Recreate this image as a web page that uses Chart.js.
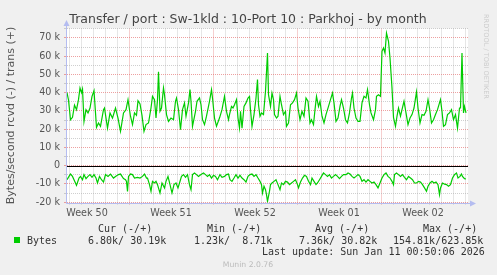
<!DOCTYPE html>
<html>
<head>
<meta charset="utf-8">
<script src="https://cdn.jsdelivr.net/npm/chart.js@4/dist/chart.umd.min.js"></script>
<style>
    html, body { margin: 0; padding: 0; background: #f0f0f0; }
</style>
</head>
<body>
<canvas id="munin" width="497" height="275"></canvas>
<script>
// time axis in hours since the left edge of the graph (1 px = 2 h)
const weekLabels = ['Week 50', 'Week 51', 'Week 52', 'Week 01', 'Week 02'];
const weekCenters = [40, 208, 376, 544, 712];
const weekStarts = [124, 292, 460, 628];

// trans (+), kB/s
const transHours = [0, 3, 7, 11, 15, 19, 23, 26, 29, 31, 34, 38, 42, 46, 50, 54, 59, 63, 67, 73, 75, 81, 86, 91, 97, 102, 107, 113, 118, 122, 127, 131, 135, 139, 142, 146, 150, 154, 158, 163, 168, 171, 175, 178, 181, 183, 186, 189, 193, 195, 199, 203, 208, 213, 217, 219, 223, 227, 231, 235, 238, 243, 246, 248, 251, 257, 260, 265, 268, 271, 275, 279, 285, 289, 291, 295, 299, 305, 310, 315, 319, 323, 325, 329, 332, 335, 339, 342, 345, 347, 350, 354, 358, 362, 365, 367, 370, 374, 378, 381, 383, 386, 389, 393, 397, 401, 403, 407, 410, 413, 415, 419, 422, 426, 429, 433, 437, 439, 443, 447, 451, 455, 459, 462, 466, 470, 474, 478, 482, 486, 489, 493, 496, 499, 503, 506, 510, 514, 518, 523, 527, 531, 534, 538, 542, 546, 549, 553, 557, 561, 565, 569, 571, 574, 578, 582, 586, 590, 594, 598, 601, 605, 608, 613, 617, 619, 623, 627, 630, 633, 636, 639, 643, 646, 650, 653, 657, 660, 663, 667, 670, 674, 678, 682, 686, 690, 694, 699, 702, 706, 710, 714, 718, 722, 725, 729, 733, 737, 741, 745, 747, 750, 753, 757, 761, 765, 769, 773, 777, 781, 785, 787, 790, 793, 795, 798];
const transK = [40, 36, 25.2, 26.5, 33.2, 30.7, 36.2, 42.6, 40, 42, 24.3, 30.7, 28.9, 31.6, 38, 41.1, 21, 23.4, 21.6, 30.7, 31.6, 20.6, 28.9, 26.1, 31.6, 26.1, 18.8, 28.9, 30.7, 36.2, 27.1, 22.5, 28.9, 27.6, 35.6, 33.8, 27.6, 18.8, 22.5, 23.4, 31.6, 38, 36.2, 26.1, 36.2, 51.5, 29.8, 31.6, 42.6, 38.9, 28, 24.3, 26.1, 25.2, 35.3, 37.1, 30.7, 19.7, 30.7, 34.4, 27.1, 34.4, 41.7, 35.3, 21.6, 29.8, 35.3, 37.1, 33.4, 25.2, 22.5, 27.1, 35.3, 41.7, 37.1, 26.1, 21.6, 26.1, 30.7, 38, 29.8, 25.2, 28, 32.5, 31.6, 33.4, 36.2, 26.1, 20.6, 29.8, 20.6, 32.5, 34.4, 37.1, 38, 30.7, 21.6, 28, 37.1, 47.2, 33.4, 27.1, 28.9, 28, 40.8, 61.8, 38.9, 32.5, 39.8, 36.2, 28, 26.1, 27.1, 38, 33.4, 28, 29.8, 21.6, 23.4, 33.4, 34.4, 36.2, 39.8, 31.6, 25.2, 29.8, 27.1, 37.1, 35.3, 23.4, 25.2, 22.5, 30.7, 38, 32.5, 35.3, 27.1, 23.4, 28, 32.5, 36.2, 39.8, 34.4, 24.3, 26.1, 32.5, 36.2, 31.6, 25.2, 23.4, 28.9, 37.1, 39.8, 31.6, 26.1, 24.3, 24.3, 34.4, 38, 37.1, 41.7, 33.4, 28.9, 25.2, 30.7, 38, 38.9, 38, 62.7, 64.5, 61.8, 72.7, 68.2, 59, 42.6, 26.5, 21.6, 27.1, 31.6, 27.1, 30.7, 35.3, 28.9, 22.5, 26.1, 28, 31.6, 40.4, 31.6, 23.4, 28, 27.6, 29.8, 36.2, 31.6, 23.4, 25.2, 28, 30.7, 34.4, 36.2, 29.8, 21.6, 22.5, 28, 28.9, 30.7, 25.2, 28, 20.6, 31.6, 31.6, 61.8, 28.9, 32.5, 28.9];

// rcvd (-), kB/s, drawn below zero
const rcvdHours = [0, 4, 7, 11, 14, 19, 24, 27, 31, 34, 38, 42, 46, 50, 54, 58, 61, 65, 69, 73, 77, 82, 87, 93, 97, 103, 107, 113, 117, 119, 121, 123, 127, 131, 135, 141, 146, 151, 155, 159, 161, 165, 168, 171, 175, 178, 181, 186, 190, 195, 198, 202, 206, 210, 214, 218, 222, 225, 229, 233, 237, 241, 245, 248, 251, 255, 259, 263, 268, 273, 277, 281, 285, 289, 293, 297, 301, 306, 310, 315, 319, 323, 326, 330, 334, 338, 342, 346, 350, 354, 358, 362, 366, 370, 374, 378, 382, 386, 389, 391, 394, 397, 399, 401, 405, 407, 410, 414, 418, 422, 426, 429, 433, 437, 441, 445, 449, 453, 457, 461, 463, 467, 471, 475, 479, 483, 487, 490, 494, 498, 501, 505, 509, 513, 517, 521, 525, 529, 533, 537, 541, 545, 549, 553, 558, 562, 566, 570, 574, 578, 582, 586, 590, 594, 598, 602, 606, 610, 614, 618, 622, 626, 630, 634, 638, 642, 646, 650, 653, 655, 659, 663, 667, 671, 675, 679, 683, 687, 691, 695, 699, 703, 707, 711, 715, 719, 722, 726, 730, 734, 738, 742, 745, 747, 751, 755, 759, 763, 767, 771, 775, 779, 782, 786, 789, 791, 795, 798];
const rcvdK = [7.7, 5.9, 4.6, 5.9, 7.7, 10.8, 6.8, 5.9, 7.7, 4.9, 7.1, 5.9, 4.9, 6.4, 4.9, 6.8, 9.5, 5.9, 7.7, 9, 4.9, 5.9, 4.6, 6.8, 5.9, 4.9, 4.6, 7.1, 7.7, 8.6, 14.1, 5.9, 4.6, 4.9, 6.8, 6.4, 6.8, 5.9, 4.6, 6.8, 6.8, 10.4, 14, 8.6, 9.5, 8.6, 10.4, 15, 9.5, 12.2, 8.6, 5.9, 10.4, 15, 10.4, 9.5, 12.2, 9.5, 5.9, 4.9, 6.4, 4.9, 10.4, 13.2, 4.9, 4, 4.9, 5.9, 4.9, 4, 4.9, 5.9, 4.9, 6.8, 5.3, 5.9, 7.7, 4.9, 6.4, 5.9, 4.9, 4.6, 7.7, 8.6, 6.8, 4.9, 6.8, 5.3, 6.8, 7.7, 9, 5.9, 4.9, 4.6, 5.9, 4.9, 6.8, 8.6, 10.4, 15, 11.3, 13.2, 15.9, 19.6, 14, 10.4, 9.5, 8.6, 7.7, 10.4, 13.2, 9.5, 10.4, 8.6, 9, 10.4, 9.5, 8.6, 7.7, 10.4, 12.2, 9, 6.8, 5.3, 5.9, 8.6, 10.4, 6.8, 8.6, 10.4, 9.5, 7.7, 5.9, 4, 4.9, 5.9, 4.9, 6.8, 5.9, 4.9, 5.9, 7.1, 5.9, 4.9, 4.9, 4, 4.6, 5.9, 6.8, 5.9, 4.9, 5.9, 8.6, 7.7, 9, 7.7, 8.6, 9.5, 9, 10.4, 12.2, 9.5, 6.8, 4.9, 4, 5.9, 6.8, 8.6, 10.4, 4.9, 4, 4.9, 5.9, 4.9, 6.4, 7.7, 5.9, 6.8, 7.7, 9.5, 9.5, 8.6, 9, 10.4, 12.2, 14, 11.3, 9.5, 8.6, 9.5, 9, 10.4, 15.9, 12.2, 9.5, 10.1, 10.4, 11.3, 10.4, 6.8, 4.9, 4, 6.8, 5.9, 4.6, 5.9, 7.1, 7.3];

const legendHeads = ['Cur (-/+)', 'Min (-/+)', 'Avg (-/+)', 'Max (-/+)'];
const legendValues = ['6.80k/ 30.19k', '1.23k/  8.71k', '7.36k/ 30.82k', '154.81k/623.85k'];

const GREEN = '#00cc00';
const MAJOR = 'rgba(230, 120, 120, 0.7)';
const MINOR = 'rgba(175, 175, 175, 0.6)';
const AXIS = '#b4bcf0';
const TXT = '#555';

const bgPlugin = {
    id: 'bg',
    beforeDraw(chart) {
        const {ctx, chartArea: a} = chart;
        ctx.save();
        ctx.fillStyle = '#f0f0f0';
        ctx.fillRect(0, 0, chart.width, chart.height);
        ctx.fillStyle = '#ffffff';
        ctx.fillRect(a.left, a.top, a.right - a.left, a.bottom - a.top);
        ctx.restore();
    },
    beforeDatasetsDraw(chart) {
        // black zero line
        const {ctx, chartArea: a} = chart;
        const y0 = Math.round(chart.scales.y.getPixelForValue(0)) + 0.5;
        ctx.save();
        ctx.strokeStyle = '#000';
        ctx.lineWidth = 1;
        ctx.beginPath();
        ctx.moveTo(a.left, y0);
        ctx.lineTo(a.right, y0);
        ctx.stroke();
        ctx.restore();
    },
    afterDraw(chart) {
        const {ctx, chartArea: a} = chart;
        ctx.save();
        // axes with arrows
        ctx.strokeStyle = AXIS;
        ctx.fillStyle = AXIS;
        ctx.lineWidth = 1;
        const xl = Math.round(a.left) - 0.5;
        const yb = Math.round(a.bottom) + 0.5;
        ctx.beginPath();
        ctx.moveTo(xl, yb);
        ctx.lineTo(xl, 24);
        ctx.moveTo(xl, yb);
        ctx.lineTo(472, yb);
        ctx.stroke();
        ctx.beginPath();
        ctx.moveTo(xl - 3, 26);
        ctx.lineTo(xl, 20);
        ctx.lineTo(xl + 3, 26);
        ctx.closePath();
        ctx.fill();
        ctx.beginPath();
        ctx.moveTo(470, yb - 3);
        ctx.lineTo(476, yb);
        ctx.lineTo(470, yb + 3);
        ctx.closePath();
        ctx.fill();

        // title
        ctx.fillStyle = '#444';
        ctx.textAlign = 'center';
        ctx.textBaseline = 'alphabetic';
        ctx.font = '12.5px "DejaVu Sans"';
        ctx.fillText('Transfer / port : Sw-1kld : 10-Port 10 : Parkhoj - by month', 248, 22.5);

        // legend
        ctx.fillStyle = '#333';
        ctx.textAlign = 'left';
        ctx.font = '10px "DejaVu Sans Mono"';
        const headX = [98, 207, 315, 423];
        const valX = [88, 194, 299, 393];
        legendHeads.forEach((t, i) => ctx.fillText(t, headX[i], 231.5));
        ctx.fillText('Bytes', 27, 243.5);
        legendValues.forEach((t, i) => ctx.fillText(t, valX[i], 243.5));
        ctx.fillText('Last update: Sun Jan 11 00:50:06 2026', 262, 255);
        ctx.fillStyle = GREEN;
        ctx.fillRect(14, 237, 6, 6);

        ctx.fillStyle = '#bbb';
        ctx.textAlign = 'center';
        ctx.font = '7.7px "DejaVu Sans"';
        ctx.fillText('Munin 2.0.76', 248, 267);

        // rrdtool watermark
        ctx.fillStyle = '#cccccc';
        ctx.font = '6.6px "DejaVu Sans"';
        ctx.translate(486, 14);
        ctx.rotate(Math.PI / 2);
        ctx.textAlign = 'left';
        ctx.textBaseline = 'middle';
        ctx.fillText('RRDTOOL / TOBI OETIKER', 0, 0);
        ctx.restore();
    }
};

const isWeekStart = v => weekStarts.includes(v);

const ctx = document.getElementById('munin').getContext('2d');
const chart = new Chart(ctx, {
    type: 'line',
    data: {
        datasets: [{
            label: 'trans',
            data: transHours.map((h, i) => ({x: h, y: transK[i] * 1000})),
            borderColor: GREEN,
            borderWidth: 1.2,
            pointRadius: 0,
            tension: 0,
            fill: false
        }, {
            label: 'rcvd',
            data: rcvdHours.map((h, i) => ({x: h, y: -rcvdK[i] * 1000})),
            borderColor: GREEN,
            borderWidth: 1.2,
            pointRadius: 0,
            tension: 0,
            fill: false
        }]
    },
    options: {
        responsive: false,
        animation: false,
        devicePixelRatio: 1,
        layout: {padding: {top: 28.5, right: 29, left: 0, bottom: 0}},
        plugins: {legend: {display: false}, tooltip: {enabled: false}, title: {display: false}},
        scales: {
            x: {
                type: 'linear',
                min: 0,
                max: 802,
                afterBuildTicks(scale) {
                    const t = [];
                    for (let h = 4; h <= 802; h += 24) t.push(h);
                    weekCenters.forEach(c => t.push(c));
                    t.sort((a, b) => a - b);
                    scale.ticks = t.map(v => ({value: v}));
                },
                afterFit(scale) { scale.height = 72.5; },
                grid: {
                    color: c => {
                        const v = c.tick ? c.tick.value : null;
                        if (weekCenters.includes(v)) return 'rgba(0,0,0,0)';
                        return isWeekStart(v) ? MAJOR : MINOR;
                    },
                    lineWidth: 1,
                    drawTicks: true,
                    tickLength: 2
                },
                border: {display: false, dash: [1, 1]},
                ticks: {
                    autoSkip: false,
                    maxRotation: 0,
                    padding: 3,
                    color: TXT,
                    font: {family: '"DejaVu Sans"', size: 9.6},
                    callback: v => {
                        const i = weekCenters.indexOf(v);
                        return i >= 0 ? weekLabels[i] : '';
                    }
                }
            },
            y: {
                type: 'linear',
                min: -20200,
                max: 75200,
                afterBuildTicks(scale) {
                    const t = [];
                    for (let v = -20000; v <= 75000; v += 5000) t.push({value: v});
                    scale.ticks = t;
                },
                afterFit(scale) { scale.width = 67; },
                grid: {
                    color: c => (c.tick && c.tick.value % 10000 === 0) ? MAJOR : MINOR,
                    lineWidth: 1,
                    drawTicks: true,
                    tickLength: 3
                },
                border: {display: false, dash: [1, 1]},
                ticks: {
                    autoSkip: false,
                    padding: 4,
                    color: TXT,
                    font: {family: '"DejaVu Sans"', size: 9.6},
                    callback: v => {
                        if (v % 10000 !== 0) return '';
                        return v === 0 ? '0' : (v / 1000) + ' k';
                    }
                },
                title: {
                    display: true,
                    text: 'Bytes/second rcvd (-) / trans (+)',
                    color: TXT,
                    font: {family: '"DejaVu Sans"', size: 11},
                    padding: {top: 5, bottom: 0}
                }
            }
        }
    },
    plugins: [bgPlugin]
});
</script>
</body>
</html>
